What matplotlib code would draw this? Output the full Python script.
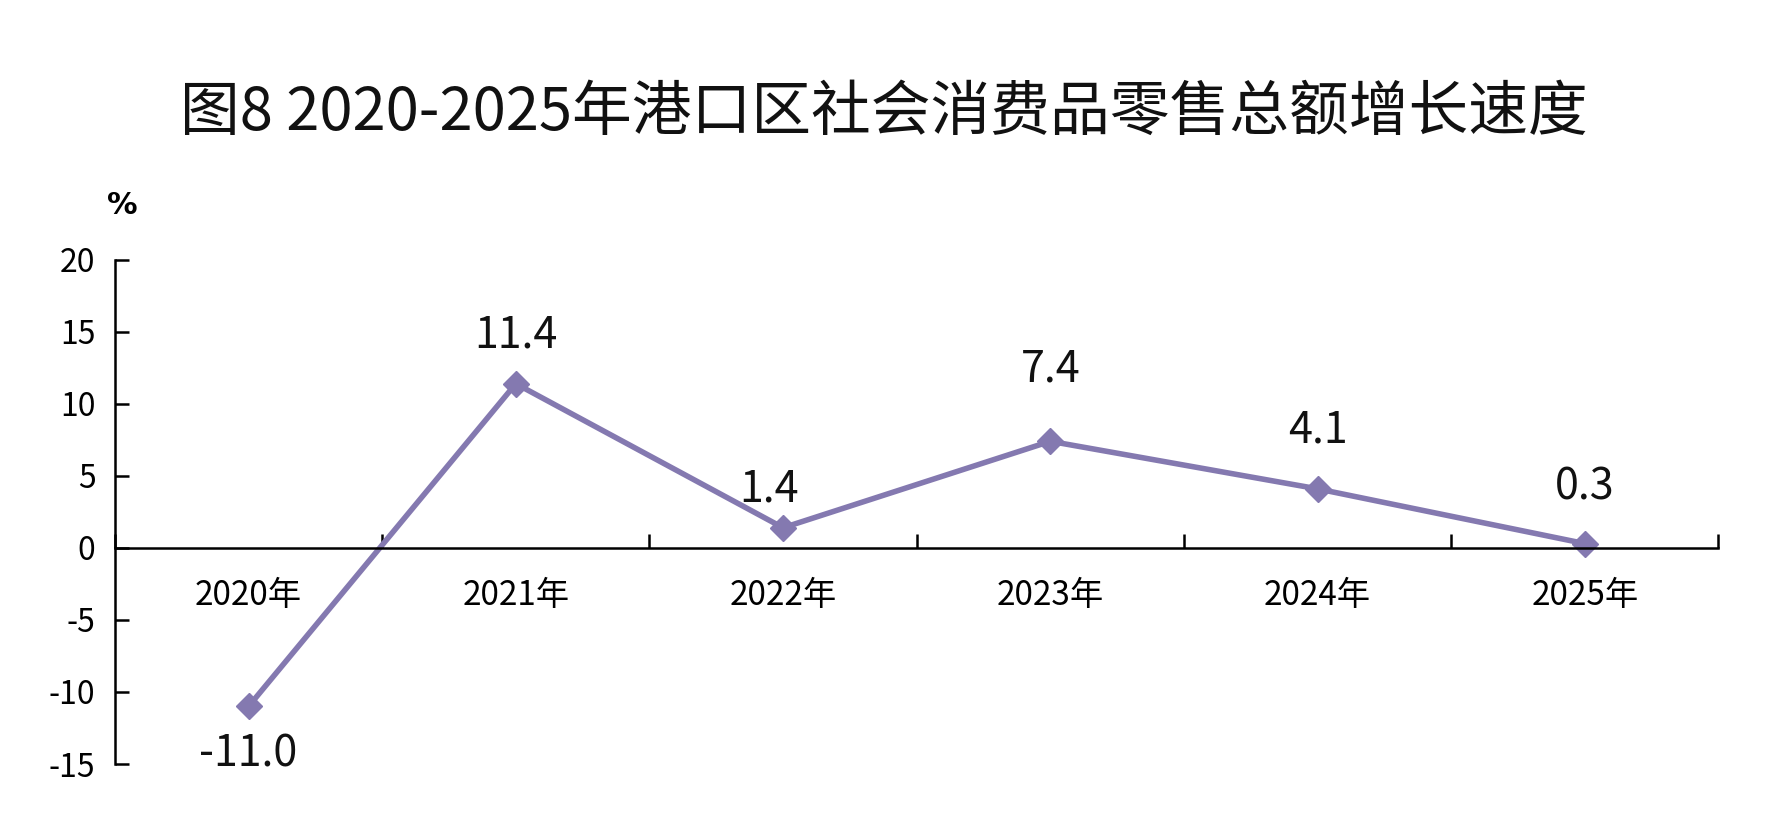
import numpy as np
import matplotlib
matplotlib.use('Agg')
import matplotlib.pyplot as plt

plt.rcParams['font.family'] = ['Noto Sans CJK SC', 'DejaVu Sans']
plt.rcParams['axes.unicode_minus'] = False

# dados
anos = ['2020年', '2021年', '2022年', '2023年', '2024年', '2025年']
crescimento = [-11.0, 11.4, 1.4, 7.4, 4.1, 0.3]
titulo = '图8 2020-2025年港口区社会消费品零售总额增长速度'

# deslocamento dos rótulos em pixels (x, y)
desloc = [(0, -48), (0, 48), (-14, 38), (0, 72), (0, 58), (0, 56)]

cor = '#8479B0'

fig = plt.figure(figsize=(17.68, 8.3), dpi=100)
ax = fig.add_axes([0.065, 0.0795, 0.907, 0.6075])

x = np.arange(len(anos)) + 0.5
ax.plot(x, crescimento, color=cor, linewidth=4, marker='D', markersize=13,
        markerfacecolor=cor, markeredgecolor=cor)

for xi, v, (dx, dy) in zip(x, crescimento, desloc):
    ax.annotate(f'{v:.1f}', (xi, v), xytext=(dx, dy), textcoords='offset pixels',
                ha='center', va='center', fontsize=31, color='#111111')

ax.set_xlim(0, len(anos))
ax.set_ylim(-15, 20)
ax.set_yticks(np.arange(-15, 21, 5))
ax.set_xticks(np.arange(0, len(anos) + 1))
ax.set_xticklabels([])
ax.set_xticks(x, minor=True)
ax.set_xticklabels(anos, minor=True)

ax.spines['top'].set_visible(False)
ax.spines['right'].set_visible(False)
ax.spines['bottom'].set_position(('data', 0))
ax.spines['left'].set_linewidth(1.8)
ax.spines['bottom'].set_linewidth(1.8)

ax.tick_params(axis='y', direction='in', length=10, width=1.8, labelsize=23, pad=14)
ax.tick_params(axis='x', which='major', direction='in', length=10, width=1.8)
ax.tick_params(axis='x', which='minor', length=0, labelsize=24, pad=22)

fig.text(0.5, 0.864, titulo, ha='center', va='center', fontsize=43, color='#111111')
fig.text(0.069, 0.752, '%', ha='center', va='center', fontsize=22, fontweight='bold',
         family='DejaVu Sans')

fig.savefig('out.png', dpi=100)
